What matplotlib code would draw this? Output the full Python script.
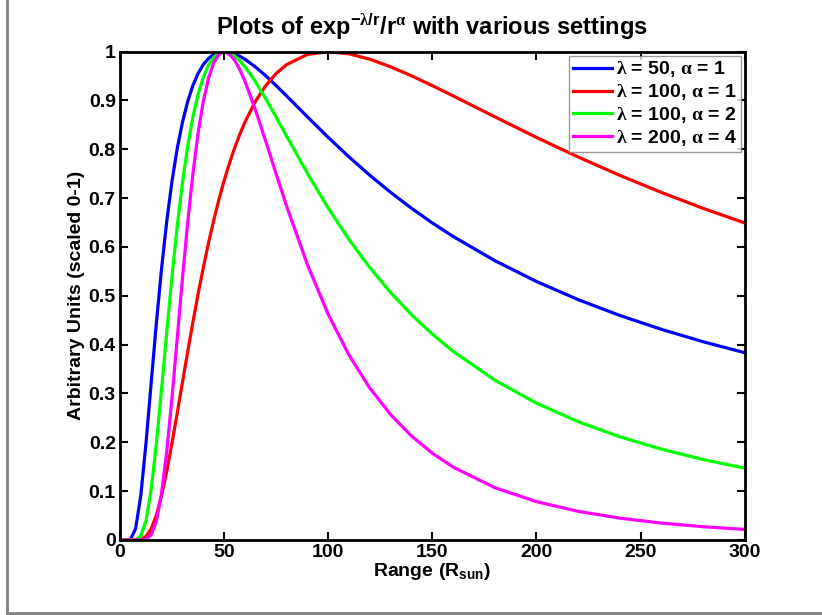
import matplotlib
matplotlib.use('Agg')
import matplotlib.pyplot as plt
from matplotlib.lines import Line2D

plt.rcParams['font.family'] = 'Liberation Sans'
plt.rcParams['font.weight'] = 'bold'
plt.rcParams['axes.titleweight'] = 'bold'
plt.rcParams['axes.labelweight'] = 'bold'
plt.rcParams['mathtext.fontset'] = 'custom'
plt.rcParams['mathtext.rm'] = 'Liberation Sans:bold'
plt.rcParams['mathtext.it'] = 'Liberation Sans:bold'
plt.rcParams['mathtext.bf'] = 'Liberation Sans:bold'
plt.rcParams['mathtext.sf'] = 'Liberation Serif'

# range samples (R_sun)
r = [0, 2.5, 5, 7.5, 10, 12.5, 15, 17.5, 20, 22.5, 25, 27.5, 30, 32.5, 35, 37.5,
     40, 42.5, 45, 47.5, 50, 52.5, 55, 57.5, 60, 65, 70, 75, 80,
     90, 100, 110, 120, 130, 140, 150, 160,
     180, 200, 220, 240, 260, 280, 300]

# scaled curves
blue = [0, 0.0, 0.0012, 0.0230, 0.0916, 0.1991, 0.3232, 0.4461, 0.5578, 0.6546,
        0.7358, 0.8022, 0.8557, 0.8980, 0.9306, 0.9554,
        0.9735, 0.9861, 0.9943, 0.9987, 1.0, 0.9988, 0.9956, 0.9907,
        0.9845, 0.9689, 0.9505, 0.9304, 0.9094,
        0.8665, 0.8244, 0.7843, 0.7467, 0.7117, 0.6792, 0.6492, 0.6215,
        0.5720, 0.5293, 0.4922, 0.4598, 0.4313, 0.4060, 0.3835]
red = [0, 0.0, 0.0, 0.0001, 0.0012, 0.0073, 0.0230, 0.0512, 0.0916, 0.1419,
       0.1991, 0.2605, 0.3232, 0.3855, 0.4461, 0.5037,
       0.5578, 0.6082, 0.6546, 0.6972, 0.7358, 0.7707, 0.8022, 0.8305,
       0.8557, 0.8980, 0.9306, 0.9554, 0.9735,
       0.9943, 1.0, 0.9956, 0.9845, 0.9689, 0.9505, 0.9304, 0.9094,
       0.8665, 0.8244, 0.7843, 0.7467, 0.7117, 0.6792, 0.6492]
green = [0, 0.0, 0.0, 0.0005, 0.0084, 0.0396, 0.1045, 0.1990, 0.3111, 0.4285,
         0.5414, 0.6435, 0.7322, 0.8064, 0.8660, 0.9128,
         0.9477, 0.9724, 0.9886, 0.9974, 1.0, 0.9976, 0.9912, 0.9815,
         0.9692, 0.9388, 0.9035, 0.8656, 0.8270,
         0.7508, 0.6796, 0.6151, 0.5576, 0.5065, 0.4613, 0.4215, 0.3863,
         0.3272, 0.2802, 0.2423, 0.2114, 0.1860, 0.1648, 0.1471]
magenta = [0, 0.0, 0.0, 0.0, 0.0001, 0.0016, 0.0109, 0.0396, 0.0968, 0.1836,
           0.2931, 0.4141, 0.5361, 0.6503, 0.7500, 0.8332,
           0.8981, 0.9456, 0.9773, 0.9948, 1.0, 0.9952, 0.9825, 0.9633,
           0.9394, 0.8813, 0.8163, 0.7493, 0.6839,
           0.5637, 0.4619, 0.3783, 0.3109, 0.2565, 0.2128, 0.1777, 0.1492,
           0.1071, 0.0785, 0.0587, 0.0447, 0.0346, 0.0272, 0.0216]

labels = [r'$\mathsf{\lambda}$ = 50, $\mathsf{\alpha}$ = 1',
          r'$\mathsf{\lambda}$ = 100, $\mathsf{\alpha}$ = 1',
          r'$\mathsf{\lambda}$ = 100, $\mathsf{\alpha}$ = 2',
          r'$\mathsf{\lambda}$ = 200, $\mathsf{\alpha}$ = 4']
colors = ['#0000ff', '#ff0000', '#00ff00', '#ff00ff']

fig = plt.figure(figsize=(8.22, 6.15), dpi=100)
ax = fig.add_axes([0.146, 0.122, 0.760, 0.794])

for y, c, lab in zip([blue, red, green, magenta], colors, labels):
    ax.plot(r, y, color=c, lw=2.3, label=lab)

ax.set_xlim(0, 300); ax.set_ylim(0, 1)
ax.set_xticks([0, 50, 100, 150, 200, 250, 300])
ax.set_yticks([0, 0.1, 0.2, 0.3, 0.4, 0.5, 0.6, 0.7, 0.8, 0.9, 1])
ax.set_yticklabels(['0', '0.1', '0.2', '0.3', '0.4', '0.5', '0.6', '0.7', '0.8', '0.9', '1'])
ax.tick_params(direction='in', top=True, right=True, length=6, width=1.5,
               labelsize=14, pad=3)
for s in ax.spines.values():
    s.set_linewidth(2)

ax.set_xlabel(r'Range (R$_{\mathrm{sun}}$)', fontsize=14, labelpad=0)
ax.set_ylabel('Arbitrary Units (scaled 0-1)', fontsize=14, labelpad=3)
ax.set_title(r'Plots of exp$^{\mathrm{-}\mathsf{\lambda}\mathrm{/r}}$/r$^{\mathsf{\alpha}}$ with various settings',
             fontsize=17, pad=12)

leg = ax.legend(loc='upper right', fontsize=14, frameon=True, fancybox=False,
                handlelength=2.0, handletextpad=0.2, borderpad=0.2,
                labelspacing=0.15, borderaxespad=0.2)
leg.get_frame().set_edgecolor('#808080')
leg.get_frame().set_linewidth(1)

# gray outer frame (left and bottom visible)
fig.add_artist(Line2D([0.0085, 0.0085], [0.003, 1.0], color='#808080', lw=2,
                      transform=fig.transFigure))
fig.add_artist(Line2D([0.0085, 1.0], [0.003, 0.003], color='#808080', lw=2,
                      transform=fig.transFigure))

fig.savefig('out.png', dpi=100)
